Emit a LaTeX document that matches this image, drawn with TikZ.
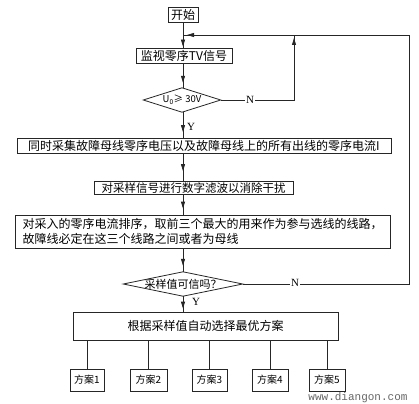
\documentclass[tikz,border=0pt]{standalone}
\usepackage{fontspec}
\setmainfont{Noto Sans CJK SC}
\newfontfamily\latser{Liberation Serif}
\newfontfamily\latmono{Liberation Mono}
\usetikzlibrary{arrows.meta,decorations.markings,calc}
\begin{document}
\begin{tikzpicture}[x=1pt,y=-1pt,
  line/.style={draw=black!85, line width=0.8pt},
  box/.style={draw=black!85, line width=0.8pt, inner sep=0pt, font=\fontsize{12}{14}\selectfont},
  sbox/.style={box, minimum height=22pt, font=\fontsize{10}{12}\selectfont},
  dtext/.style={inner sep=0pt},
  dshape/.style={draw=black!85, line width=0.8pt},
  yn/.style={inner sep=1pt, fill=white, font=\latser\fontsize{11}{12}\selectfont},
  tiparr/.style={postaction={decorate, decoration={markings, mark=at position #1 with {\arrow{Triangle[length=7pt,width=4pt]}}}}},
]
\useasboundingbox (0,0) rectangle (419,403);
\fill[white] (0,0) rectangle (419,403);

% nodes
\node[box, minimum width=30pt, minimum height=15pt] (start) at (183,14.5) {开始};
\coordinate (J) at (183,35);
\node[box, minimum width=96pt, minimum height=15pt] (b2) at (184,55.5) {监视零序TV信号};
\node[dtext, minimum width=77pt, minimum height=24pt] (d1) at (182,100) {\fontsize{9.5}{10}\selectfont U\textsubscript{0}≥ 30V};
\draw[dshape] (d1.west) -- (d1.north) -- (d1.east) -- (d1.south) -- cycle;
\node[box, minimum width=374pt, minimum height=15pt] (b3) at (204,146) {同时采集故障母线零序电压以及故障母线上的所有出线的零序电流I};
\node[box, minimum width=199pt, minimum height=13pt, font=\fontsize{11.5}{13}\selectfont] (b4) at (193.5,188) {对采样信号进行数字滤波以消除干扰};
\node[box, text width=360pt, inner xsep=7.5pt, minimum height=33pt, align=left, font=\fontsize{12}{15}\selectfont] (b5) at (202.5,231.5) {对采入的零序电流排序，取前三个最大的用来作为参与选线的线路，\\故障线必定在这三个线路之间或者为母线};
\node[dtext, minimum width=119pt, minimum height=24pt, font=\fontsize{11}{12}\selectfont] (d2) at (183,284) {采样值可信吗？};
\draw[dshape] (d2.west) -- (d2.north) -- (d2.east) -- (d2.south) -- cycle;
\node[box, minimum width=265pt, minimum height=28pt] (b6) at (205.5,326) {根据采样值自动选择最优方案};

\node[sbox, minimum width=34pt] (s1) at (87,380) {方案1};
\node[sbox, minimum width=37pt] (s2) at (148.5,380) {方案2};
\node[sbox, minimum width=35pt] (s3) at (209.5,380) {方案3};
\node[sbox, minimum width=36pt] (s4) at (270,380) {方案4};
\node[sbox, minimum width=36pt] (s5) at (327,380) {方案5};

\coordinate (L1) at (294,100);
\coordinate (L1t) at (294,35);
\coordinate (R2) at (409,284);
\coordinate (R1) at (409,35);

% connectors
\draw[line] (start) -- (J);
\draw[line, tiparr=-1pt] (J) -- (J |- b2.north);
\draw[line, tiparr=-5pt] (J |- b2.south) -- (J |- d1.north);
\draw[line, tiparr=-6pt] (J |- d1.south) -- (J |- b3.north);
\draw[line, tiparr=-10pt] (J |- b3.south) -- (J |- b4.north);
\draw[line, tiparr=-6pt] (J |- b4.south) -- (J |- b5.north);
\draw[line, tiparr=-6pt] (J |- b5.south) -- (J |- d2.north);
\draw[line, tiparr=-3pt] (J |- d2.south) -- (J |- b6.north);
\foreach \s in {s1,s2,s3,s4,s5} {
  \draw[line] (\s.north |- b6.south) -- (\s.north);
}
\draw[line, tiparr=-3pt] (d1.east) -- (L1) -- (L1t);
\draw[line, tiparr=-4pt] (d2.east) -- (R2) -- (R1) -- (J);

% labels
\node[yn] (n1) at (250,100) {N};
\node[yn] (n2) at (295,283) {N};
\node[yn, fill=none] (y1) at (191,127) {Y};
\node[yn, fill=none] (y2) at (196,302) {Y};
\node[text=black!60, font=\latmono\fontsize{11}{12}\selectfont, inner sep=0pt] (wm) at (358,397.5) {www.diangon.com};
\end{tikzpicture}
\end{document}
